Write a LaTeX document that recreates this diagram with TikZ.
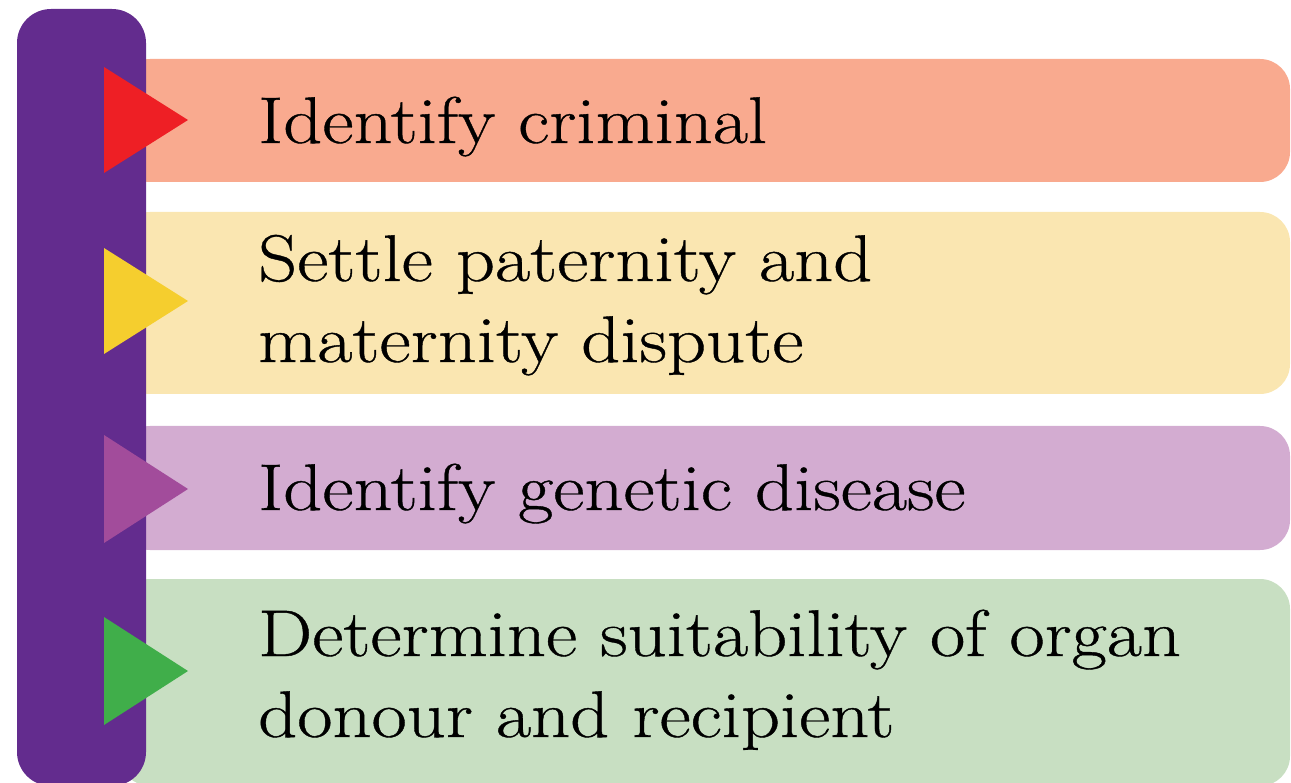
\documentclass[tikz,border=0pt]{standalone}
\usepackage{fontspec}
\setmainfont{Latin Modern Roman}[FakeStretch=1.16, FakeBold=0.6]
\begin{document}
\definecolor{barpurple}{RGB}{99,44,142}
\definecolor{boxA}{RGB}{249,170,143}
\definecolor{boxB}{RGB}{250,230,177}
\definecolor{boxC}{RGB}{211,172,209}
\definecolor{boxD}{RGB}{200,223,194}
\definecolor{triA}{RGB}{238,31,37}
\definecolor{triB}{RGB}{245,206,46}
\definecolor{triC}{RGB}{162,76,155}
\definecolor{triD}{RGB}{64,174,74}
\begin{tikzpicture}[x=1pt,y=-1pt,
  panel/.style={rounded corners=30pt},
  label/.style={anchor=base west, align=left, inner sep=0pt, font=\fontsize{66}{81}\selectfont, text=black}]
\useasboundingbox (0,0) rectangle (1291,783);
\clip (0,0) rectangle (1291,783);
% panels
\fill[boxA, panel] (120,59) rectangle (1290,182);
\fill[boxB, panel] (120,212) rectangle (1290,394);
\fill[boxC, panel] (120,426) rectangle (1290,550);
\fill[boxD, panel] (120,579) rectangle (1290,786);
% bar
\fill[barpurple, rounded corners=34pt] (17,9) rectangle (146,786);
% triangles
\fill[triA] (104,67) -- (188,120) -- (104,173) -- cycle;
\fill[triB] (104,248) -- (188,301) -- (104,354) -- cycle;
\fill[triC] (104,435) -- (188,489) -- (104,543) -- cycle;
\fill[triD] (104,617) -- (188,671) -- (104,725) -- cycle;
% texts
\node[label] (t1) at (258,143) {Identify criminal};
\node[label] (t2) at (258,362) {Settle paternity and\\maternity dispute};
\node[label] (t3) at (258,510) {Identify genetic disease};
\node[label] (t4) at (258,737) {Determine suitability of organ\\donour and recipient};
\end{tikzpicture}
\end{document}
